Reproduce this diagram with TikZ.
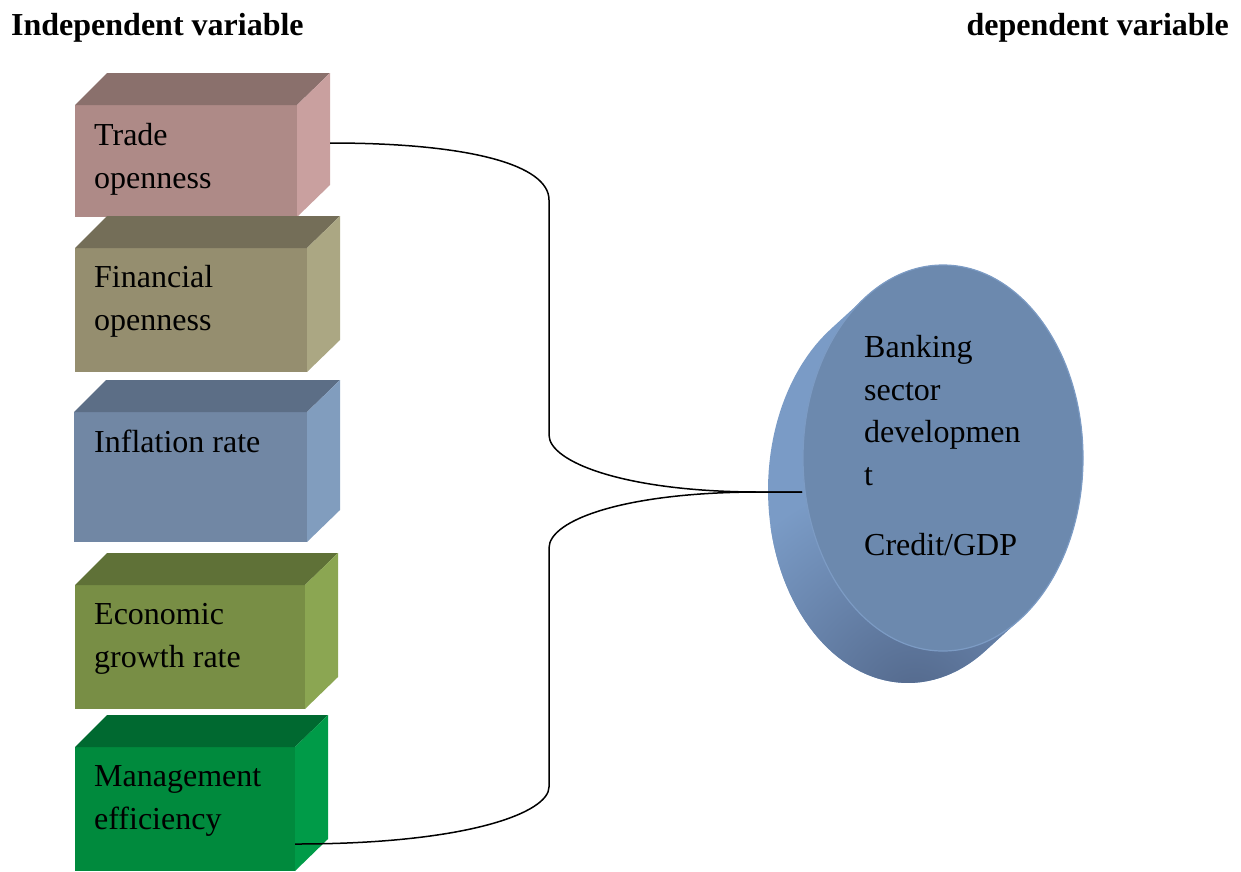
\documentclass[tikz,border=0pt]{standalone}
\usepackage{fontspec}
\setmainfont{Liberation Serif}
\usetikzlibrary{calc,shapes.geometric}

% box colours: front / top / side
\definecolor{tradeF}{HTML}{AE8A87}\definecolor{tradeT}{HTML}{8A706C}\definecolor{tradeS}{HTML}{C9A09F}
\definecolor{finF}{HTML}{958E6F}\definecolor{finT}{HTML}{746E58}\definecolor{finS}{HTML}{ABA783}
\definecolor{inflF}{HTML}{7187A4}\definecolor{inflT}{HTML}{5C6E86}\definecolor{inflS}{HTML}{819DBE}
\definecolor{ecoF}{HTML}{788E45}\definecolor{ecoT}{HTML}{5F7137}\definecolor{ecoS}{HTML}{8BA652}
\definecolor{mgmtF}{HTML}{008A3D}\definecolor{mgmtT}{HTML}{006930}\definecolor{mgmtS}{HTML}{009B48}
% disk colours
\definecolor{diskface}{HTML}{6C89AE}
\definecolor{diskrim}{HTML}{7C9BC4}
\definecolor{diskside}{HTML}{7A9BC6}
\definecolor{diskdark}{HTML}{52678A}

% cuboid: name, x, y (front top-left), width, height, front, top, side
\newcommand{\cuboid}[8]{%
  \node[face, fill=#6, minimum width=#4pt, minimum height=#5pt, anchor=north west] (#1) at (#2,#3) {};
  \fill[#7] (#1.north west) -- ++(32,-32) -- ($(#1.north east)+(33,-32)$) -- (#1.north east) -- cycle;
  \fill[#8] (#1.north east) -- ($(#1.north east)+(33,-32)$) -- ($(#1.south east)+(33,-32)$) -- (#1.south east) -- cycle;
}

\begin{document}
\begin{tikzpicture}[x=1pt,y=-1pt,
  face/.style={inner sep=0pt, outer sep=0pt, draw=none},
  lbl/.style={anchor=base west, inner sep=0pt, align=left, font=\fontsize{32}{42.5}\selectfont},
  head/.style={inner sep=0pt, font=\fontsize{32}{40}\selectfont\bfseries},
  link/.style={line width=1.5pt, black}]
\useasboundingbox (0,0) rectangle (1241,871);

% headings
\node[head, anchor=base west] (indep) at (11,35) {Independent variable};
\node[head, anchor=base east] (dep) at (1229,35) {dependent variable};

% independent variables
\cuboid{trade}{75}{105}{222}{112}{tradeF}{tradeT}{tradeS}
\cuboid{fin}{75}{248}{232}{124}{finF}{finT}{finS}
\cuboid{infl}{74}{412}{233}{130}{inflF}{inflT}{inflS}
\cuboid{eco}{75}{585}{230}{124}{ecoF}{ecoT}{ecoS}
\cuboid{mgmt}{75}{747}{220}{124}{mgmtF}{mgmtT}{mgmtS}

% labels are placed by the baseline of their last line
\node[lbl] (tradeL) at (94,188) {Trade\\openness};
\node[lbl] (finL) at (94,330) {Financial\\openness};
\node[lbl] (inflL) at (94,452) {Inflation rate};
\node[lbl] (ecoL) at (94,667) {Economic\\growth rate};
\node[lbl] (mgmtL) at (94,829) {Management\\efficiency};

% dependent variable: disk with its side band
\begin{scope}
  \path[clip] plot[domain=56.45:236.45, samples=72] ({908+140*cos(\x)},{490+193*sin(\x)})
    -- plot[domain=236.45:416.45, samples=72] ({943+140*cos(\x)},{458+193*sin(\x)}) -- cycle;
  \fill[diskside] (700,240) rectangle (1120,720);
  \shade[inner color=diskdark, outer color=diskside] (915,705) circle (230);
\end{scope}
\node[ellipse, minimum width=280pt, minimum height=386pt, inner sep=0pt, outer sep=0pt,
  fill=diskface, draw=diskrim, line width=1.2pt] (bank) at (943,458) {};

\node[lbl] (bankL) at (864,485) {Banking\\sector\\developmen\\t};
\node[lbl] (ratioL) at (864,555) {Credit/GDP};

% connectors
\coordinate (hub) at ($(bank.center)+(-141,34)$);
\coordinate (tradeout) at ($(trade.east)+(33,-18)$);
\coordinate (mgmtout) at ($(mgmt.east)+(0,35)$);
\coordinate (join) at (760,492);

\draw[link] (tradeout) .. controls (470,143) and (549,165) .. (549,200)
  -- (549,435) .. controls (549,462) and (625,492) .. (join) -- (hub);
\draw[link] (mgmtout) .. controls (470,844) and (549,812) .. (549,787)
  -- (549,548) .. controls (549,520) and (625,492) .. (join) -- (hub);
\end{tikzpicture}
\end{document}
